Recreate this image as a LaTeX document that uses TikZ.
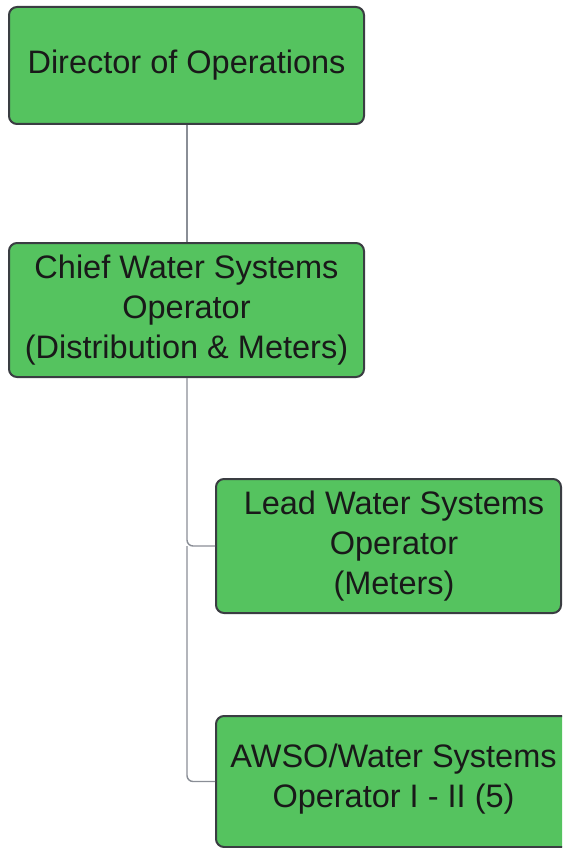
\documentclass[tikz,border=0pt]{standalone}
\usepackage{fontspec}
\setmainfont{Liberation Sans}
\definecolor{boxfill}{HTML}{55C35F}
\definecolor{boxline}{HTML}{3A3D42}
\definecolor{linkline}{HTML}{8A8E96}
\begin{document}
\begin{tikzpicture}[x=1pt,y=-1pt,
  orgbox/.style={draw=boxline, line width=2pt, fill=boxfill, rounded corners=8pt,
    align=center, inner sep=0pt, text=black!90,
    font=\fontsize{32.5}{40}\selectfont},
  boxtext/.style={align=center, inner sep=0pt, text=black!90,
    font=\fontsize{32.5}{40}\selectfont},
  link/.style={draw=linkline, line width=1.4pt, rounded corners=6pt}]
\useasboundingbox (0,0) rectangle (562,848);
\clip (0,0) rectangle (562,848);
\node[orgbox, minimum width=355pt, minimum height=117pt] (dir) at (186.5,65.5) {Director of Operations};
\node[orgbox, minimum width=355pt, minimum height=134pt] (chief) at (186.5,310) {Chief Water Systems\\Operator\\(Distribution \& Meters)};
\node[orgbox, minimum width=345pt, minimum height=134pt] (lead) at (388.5,546) {};
\node[boxtext] (leadtext) at (394,546) {Lead Water Systems\\Operator\\(Meters)};
\node[orgbox, minimum width=380pt, minimum height=131pt] (awso) at (406,781.5) {};
\node[boxtext] (awsotext) at (393.5,779) {AWSO/Water Systems\\Operator I - II (5)};
\coordinate (j1) at (187,546);
\coordinate (j2) at (187,781.5);
\draw[link] (dir.south -| j1) -- (chief.north -| j1);
\draw[link] (chief.south -| j1) -- (j1) -- (lead.west);
\draw[link] (j1) -- (j2) -- (awso.west);
\end{tikzpicture}
\end{document}
